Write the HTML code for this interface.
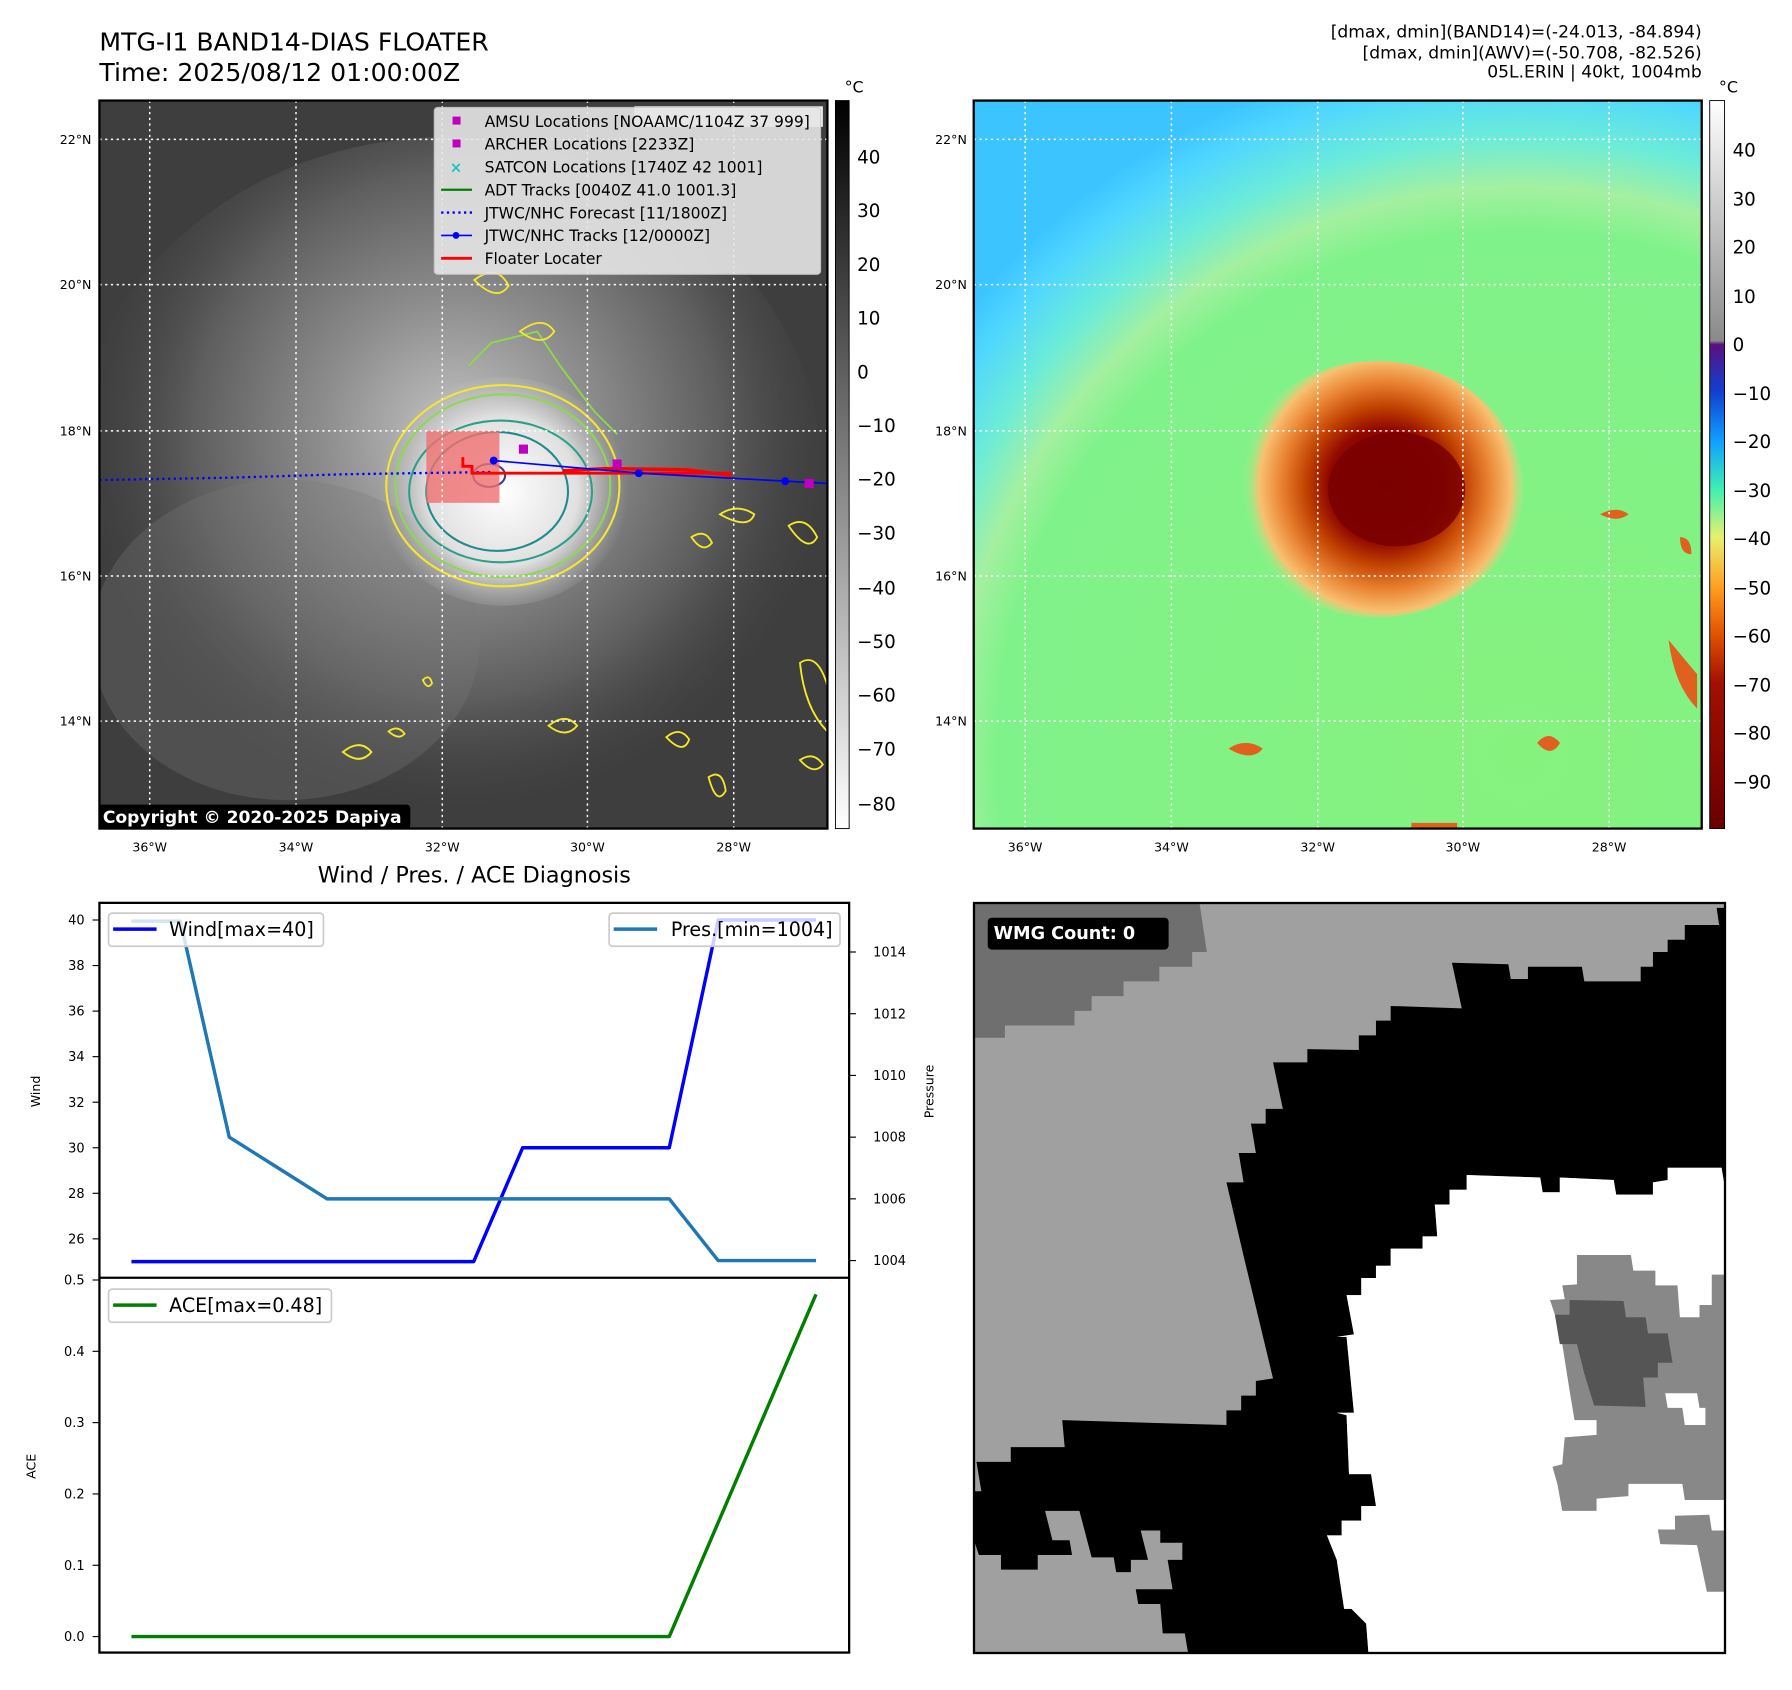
<!DOCTYPE html>
<html><head><meta charset="utf-8"><style>
html,body{margin:0;padding:0;background:#fff;}
svg{display:block;font-family:"DejaVu Sans","Liberation Sans",sans-serif;}
</style></head><body>
<svg id="root" width="1792" height="1690" viewBox="0 0 1792 1690" xmlns="http://www.w3.org/2000/svg">
<defs>
<radialGradient id="cloud" cx="400" cy="380" r="330" gradientUnits="userSpaceOnUse">
<stop offset="0" stop-color="#c4c4c4"/><stop offset="0.35" stop-color="#8e8e8e"/><stop offset="0.7" stop-color="#5e5e5e"/><stop offset="1" stop-color="#454545" stop-opacity="0"/></radialGradient>
<radialGradient id="core" cx="440" cy="430" r="110" gradientUnits="userSpaceOnUse">
<stop offset="0" stop-color="#ffffff"/><stop offset="0.6" stop-color="#e0e0e0"/><stop offset="1" stop-color="#b0b0b0" stop-opacity="0"/></radialGradient>
<radialGradient id="env" cx="1330" cy="660" r="620" gradientUnits="userSpaceOnUse">
<stop offset="0" stop-color="#86f27e"/><stop offset="0.74" stop-color="#80f28a"/><stop offset="0.8" stop-color="#a4f0a0"/><stop offset="0.87" stop-color="#6cecd8"/><stop offset="0.95" stop-color="#4fd6ff"/><stop offset="1" stop-color="#3cc4ff"/></radialGradient>
<radialGradient id="storm" cx="1212" cy="425" r="125" gradientUnits="userSpaceOnUse">
<stop offset="0" stop-color="#7a0000"/><stop offset="0.4" stop-color="#900800"/><stop offset="0.55" stop-color="#c04000"/><stop offset="0.72" stop-color="#e88030"/><stop offset="0.88" stop-color="#f8c070"/><stop offset="1" stop-color="#a0f090" stop-opacity="0"/></radialGradient>
<linearGradient id="cbL" x1="0" y1="0" x2="0" y2="1"><stop offset="0" stop-color="#000"/><stop offset="1" stop-color="#fff"/></linearGradient>
<linearGradient id="cbR" x1="0" y1="0" x2="0" y2="1">
<stop offset="0" stop-color="#ffffff"/><stop offset="0.33" stop-color="#8a8a8a"/><stop offset="0.335" stop-color="#5a1080"/><stop offset="0.40" stop-color="#1040d0"/><stop offset="0.468" stop-color="#10a0ff"/><stop offset="0.535" stop-color="#40f0b0"/><stop offset="0.60" stop-color="#e8f070"/><stop offset="0.668" stop-color="#ffa020"/><stop offset="0.735" stop-color="#e05000"/><stop offset="0.80" stop-color="#a01000"/><stop offset="1" stop-color="#6a0000"/></linearGradient>
<clipPath id="clipL"><rect x="87" y="88" width="637" height="637"/></clipPath>
<clipPath id="clipR"><rect x="852" y="88" width="637" height="637"/></clipPath>
</defs>
<g transform="scale(1.142857)">
<text x="87" y="44" font-size="22">MTG-I1 BAND14-DIAS FLOATER</text>
<text x="87" y="71" font-size="22">Time: 2025/08/12 01:00:00Z</text>
<g font-size="15" text-anchor="end">
<text x="1489" y="33">[dmax, dmin](BAND14)=(-24.013, -84.894)</text>
<text x="1489" y="51">[dmax, dmin](AWV)=(-50.708, -82.526)</text>
<text x="1489" y="68">05L.ERIN | 40kt, 1004mb</text>
</g>

<!-- left map -->
<g clip-path="url(#clipL)">
<rect x="87" y="88" width="637" height="637" fill="#3e3e3e"/>
<ellipse cx="390" cy="420" rx="330" ry="300" fill="url(#cloud)"/>
<ellipse cx="250" cy="560" rx="170" ry="140" fill="#7a7a7a" opacity="0.3"/>
<ellipse cx="440" cy="430" rx="110" ry="100" fill="url(#core)"/>
<ellipse cx="440" cy="425" rx="102" ry="88" fill="none" stroke="#f5e82a" stroke-width="1.8"/>
<ellipse cx="440" cy="425" rx="94" ry="80" fill="none" stroke="#8ed84c" stroke-width="1.8"/>
<ellipse cx="438" cy="430" rx="80" ry="62" fill="none" stroke="#2aa088" stroke-width="1.8"/>
<ellipse cx="435" cy="430" rx="62" ry="52" fill="none" stroke="#1d8a8e" stroke-width="1.8"/>
<ellipse cx="428" cy="416" rx="14" ry="10" fill="none" stroke="#3e3a8a" stroke-width="1.8"/>
<path d="M410,320 L430,300 L470,290 L490,320 L520,360 L540,380" fill="none" stroke="#8ed84c" stroke-width="1.6"/>
<path d="M415,245 q20,-15 30,5 q-10,15 -30,-5z M455,290 q20,-15 30,0 q-10,15 -30,0z M300,658 q15,-12 25,0 q-10,12 -25,0z M583,645 q12,-10 20,2 q-5,14 -20,-2z M630,450 q15,-10 30,0 q-5,14 -30,0z M605,470 q12,-8 18,5 q-8,10 -18,-5z M690,460 q15,-10 25,10 q-8,15 -25,-10z M700,580 q15,-10 24,20 l0,40 q-20,-20 -24,-60z M480,635 q15,-12 25,0 q-10,12 -25,0z M620,680 q12,-8 15,12 q-8,14 -15,-12z M700,665 q12,-8 20,4 q-8,10 -20,-4z M370,595 q6,-6 8,3 q-4,6 -8,-3z M340,640 q8,-6 14,2 q-5,6 -14,-2z" fill="none" stroke="#f5e82a" stroke-width="1.6"/>
<rect x="373" y="377" width="64" height="63" fill="#f07070" opacity="0.8"/>
<g stroke="#ffffff" stroke-width="1.3" stroke-dasharray="2,3" fill="none">
<line x1="131" y1="88" x2="131" y2="725"/><line x1="259" y1="88" x2="259" y2="725"/><line x1="387" y1="88" x2="387" y2="725"/><line x1="514" y1="88" x2="514" y2="725"/><line x1="642" y1="88" x2="642" y2="725"/>
<line x1="87" y1="122" x2="724" y2="122"/><line x1="87" y1="249" x2="724" y2="249"/><line x1="87" y1="377" x2="724" y2="377"/><line x1="87" y1="504" x2="724" y2="504"/><line x1="87" y1="631" x2="724" y2="631"/>
</g>
<polyline points="87,420 200,418 300,415 430,413" fill="none" stroke="#0000ff" stroke-width="2" stroke-dasharray="2,3"/>
<polyline points="405,400 405,408 413,408 413,414 640,414" fill="none" stroke="#ff0000" stroke-width="2.5"/>
<polyline points="492,412 530,410 600,411 640,416" fill="none" stroke="#ff0000" stroke-width="3"/>
<polyline points="432,403 559,414 687,421 724,423" fill="none" stroke="#0000ff" stroke-width="1.5"/>
<circle cx="432" cy="403" r="3.5" fill="#0000ff"/><circle cx="559" cy="414" r="3.5" fill="#0000ff"/><circle cx="687" cy="421" r="3.5" fill="#0000ff"/>
<rect x="454" y="389" width="8" height="8" fill="#c000c0"/><rect x="536" y="402" width="8" height="8" fill="#c000c0"/><rect x="704" y="419" width="8" height="8" fill="#c000c0"/>
<rect x="555" y="93" width="165" height="18" fill="#ffffff" opacity="0.9"/>
<rect x="380" y="94" width="338" height="146" rx="3" fill="#e6e6e6" opacity="0.9" stroke="#cccccc"/>
<g font-size="13.6" fill="#000">
<rect x="396" y="102" width="7" height="7" fill="#c000c0"/><text x="424" y="111">AMSU Locations [NOAAMC/1104Z 37 999]</text>
<rect x="396" y="122" width="7" height="7" fill="#c000c0"/><text x="424" y="131">ARCHER Locations [2233Z]</text>
<text x="399" y="151" fill="#20c0c0" font-size="13" text-anchor="middle" font-weight="bold">×</text><text x="424" y="151">SATCON Locations [1740Z 42 1001]</text>
<line x1="386" y1="166" x2="413" y2="166" stroke="#008000" stroke-width="2"/><text x="424" y="171">ADT Tracks [0040Z 41.0 1001.3]</text>
<line x1="386" y1="186" x2="413" y2="186" stroke="#0000ff" stroke-width="2" stroke-dasharray="2,3"/><text x="424" y="191">JTWC/NHC Forecast [11/1800Z]</text>
<line x1="386" y1="206" x2="413" y2="206" stroke="#0000ff" stroke-width="1.5"/><circle cx="399" cy="206" r="3" fill="#0000ff"/><text x="424" y="211">JTWC/NHC Tracks [12/0000Z]</text>
<line x1="386" y1="226" x2="413" y2="226" stroke="#ff0000" stroke-width="2.5"/><text x="424" y="231">Floater Locater</text>
</g>
<rect x="85" y="704" width="274" height="21" rx="3" fill="#000"/>
<text x="90" y="720" font-size="15" font-weight="bold" fill="#fff">Copyright © 2020-2025 Dapiya</text>
</g>
<rect x="87" y="88" width="637" height="637" fill="none" stroke="#000" stroke-width="2"/>
<rect x="731" y="88" width="12" height="637" fill="url(#cbL)" stroke="#000" stroke-width="0.8"/>
<text x="739" y="81" font-size="14">°C</text>
<g font-size="16">
<text x="750" y="143">40</text><text x="750" y="190">30</text><text x="750" y="237">20</text><text x="750" y="284">10</text><text x="750" y="331">0</text><text x="750" y="378">−10</text><text x="750" y="425">−20</text><text x="750" y="472">−30</text><text x="750" y="520">−40</text><text x="750" y="567">−50</text><text x="750" y="614">−60</text><text x="750" y="661">−70</text><text x="750" y="709">−80</text>
</g>
<g font-size="11">
<g text-anchor="end"><text x="80" y="126">22°N</text><text x="80" y="253">20°N</text><text x="80" y="381">18°N</text><text x="80" y="508">16°N</text><text x="80" y="635">14°N</text></g>
<g text-anchor="middle"><text x="131" y="745">36°W</text><text x="259" y="745">34°W</text><text x="387" y="745">32°W</text><text x="514" y="745">30°W</text><text x="642" y="745">28°W</text></g>
</g>

<!-- right map -->
<g clip-path="url(#clipR)">
<rect x="852" y="88" width="637" height="637" fill="#3cc4ff"/>
<circle cx="1330" cy="660" r="620" fill="url(#env)"/>
<ellipse cx="1205" cy="428" rx="128" ry="112" fill="url(#storm)"/>
<ellipse cx="1222" cy="428" rx="60" ry="50" fill="#7a0000" opacity="0.85"/>
<path d="M1075,655 q15,-10 30,0 q-10,12 -30,0z M1345,650 q10,-12 20,0 q-8,14 -20,0z M1400,450 q15,-8 25,0 q-10,8 -25,0z M1470,470 q10,0 10,15 q-10,0 -10,-15z M1460,560 l25,30 l0,30 q-20,-20 -25,-60z M1235,720 l40,0 l0,5 l-40,0z" fill="#e06020"/>
<g stroke="#ffffff" stroke-width="1.3" stroke-dasharray="2,3" fill="none">
<line x1="897" y1="88" x2="897" y2="725"/><line x1="1025" y1="88" x2="1025" y2="725"/><line x1="1153" y1="88" x2="1153" y2="725"/><line x1="1280" y1="88" x2="1280" y2="725"/><line x1="1408" y1="88" x2="1408" y2="725"/>
<line x1="852" y1="122" x2="1489" y2="122"/><line x1="852" y1="249" x2="1489" y2="249"/><line x1="852" y1="377" x2="1489" y2="377"/><line x1="852" y1="504" x2="1489" y2="504"/><line x1="852" y1="631" x2="1489" y2="631"/>
</g>
</g>
<rect x="852" y="88" width="637" height="637" fill="none" stroke="#000" stroke-width="2"/>
<rect x="1496" y="88" width="13" height="637" fill="url(#cbR)" stroke="#000" stroke-width="0.8"/>
<text x="1504" y="81" font-size="14">°C</text>
<g font-size="16">
<text x="1516" y="137">40</text><text x="1516" y="180">30</text><text x="1516" y="222">20</text><text x="1516" y="265">10</text><text x="1516" y="307">0</text><text x="1516" y="350">−10</text><text x="1516" y="392">−20</text><text x="1516" y="435">−30</text><text x="1516" y="477">−40</text><text x="1516" y="520">−50</text><text x="1516" y="562">−60</text><text x="1516" y="605">−70</text><text x="1516" y="647">−80</text><text x="1516" y="690">−90</text>
</g>
<g font-size="11">
<g text-anchor="end"><text x="846" y="126">22°N</text><text x="846" y="253">20°N</text><text x="846" y="381">18°N</text><text x="846" y="508">16°N</text><text x="846" y="635">14°N</text></g>
<g text-anchor="middle"><text x="897" y="745">36°W</text><text x="1025" y="745">34°W</text><text x="1153" y="745">32°W</text><text x="1280" y="745">30°W</text><text x="1408" y="745">28°W</text></g>
</g>

<!-- diagnosis chart -->
<text x="415" y="772" font-size="19.5" text-anchor="middle">Wind / Pres. / ACE Diagnosis</text>
<g id="chart"></g>
<rect x="87" y="790" width="656" height="656" fill="none" stroke="#000" stroke-width="2"/>
<line x1="87" y1="1118" x2="743" y2="1118" stroke="#000" stroke-width="2"/>
<text transform="translate(35,955) rotate(-90)" font-size="11" text-anchor="middle">Wind</text>
<text transform="translate(817,955) rotate(-90)" font-size="11" text-anchor="middle">Pressure</text>
<text transform="translate(31,1283) rotate(-90)" font-size="11" text-anchor="middle">ACE</text>
<rect x="95" y="799" width="188" height="29" rx="3" fill="#fff" fill-opacity="0.8" stroke="#ccc" stroke-width="1.5"/>
<line x1="99" y1="813" x2="137" y2="813" stroke="#0000ff" stroke-width="3"/><text x="148" y="819" font-size="16.7">Wind[max=40]</text>
<rect x="533" y="799" width="202" height="29" rx="3" fill="#fff" fill-opacity="0.8" stroke="#ccc" stroke-width="1.5"/>
<line x1="537" y1="813" x2="575" y2="813" stroke="#1f77b4" stroke-width="3"/><text x="587" y="819" font-size="16.7">Pres.[min=1004]</text>
<rect x="95" y="1128" width="195" height="29" rx="3" fill="#fff" fill-opacity="0.8" stroke="#ccc" stroke-width="1.5"/>
<line x1="99" y1="1142" x2="137" y2="1142" stroke="#008000" stroke-width="3"/><text x="148" y="1148" font-size="16.7">ACE[max=0.48]</text>
</g>

<!-- WMG panel -->
<svg x="974" y="903" width="751" height="750" viewBox="0 0 1532 1530" preserveAspectRatio="none">
<rect x="0" y="0" width="1550" height="1550" fill="#a0a0a0"/>
<polygon fill="#6f6f6f" points="0,0 460,0 475,100 445,100 445,130 378,130 378,160 305,160 305,190 240,190 240,220 205,220 205,250 63,250 63,275 0,275"/>
<polygon fill="#000" points="1550,10 1515,10 1520,45 1450,45 1450,75 1415,75 1415,100 1385,100 1385,130 1360,130 1360,160 1245,160 1240,130 1130,130 1130,155 1095,155 1090,125 975,122 995,215 850,210 850,240 820,240 820,270 785,270 785,300 680,298 680,325 610,325 630,420 595,420 595,450 565,450 575,510 540,510 550,570 515,570 550,720 610,970 575,975 575,1005 545,1005 545,1035 515,1035 515,1065 180,1055 185,1110 75,1110 75,1140 5,1140 15,1200 0,1200 0,1300 10,1330 55,1330 55,1360 130,1360 130,1330 200,1330 195,1300 160,1300 145,1240 215,1240 240,1335 285,1335 290,1365 320,1365 320,1340 355,1340 340,1280 380,1280 380,1305 425,1305 425,1340 395,1340 405,1400 330,1400 335,1430 380,1430 385,1490 430,1490 440,1550 775,1550 770,1535 805,1535 800,1470 770,1440 755,1440 740,1340 720,1290 750,1290 750,1260 790,1260 790,1230 820,1230 810,1165 765,1165 760,1045 740,1040 775,1040 760,885 740,885 775,880 760,800 790,800 790,765 820,765 820,740 850,740 850,705 915,705 915,680 945,680 940,615 970,615 970,585 1005,585 1005,555 1155,560 1160,590 1195,590 1195,560 1305,565 1310,595 1385,595 1385,570 1415,565 1415,540 1525,540 1530,570 1550,570"/>
<polygon fill="#fff" points="775,1550 770,1535 805,1535 800,1470 770,1440 755,1440 740,1340 720,1290 750,1290 750,1260 790,1260 790,1230 820,1230 810,1165 765,1165 760,1045 740,1040 775,1040 760,885 740,885 775,880 760,800 790,800 790,765 820,765 820,740 850,740 850,705 915,705 915,680 945,680 940,615 970,615 970,585 1005,585 1005,555 1155,560 1160,590 1195,590 1195,560 1305,565 1310,595 1385,595 1385,570 1415,565 1415,540 1525,540 1530,570 1550,570 1550,1550"/>
<polygon fill="#888" points="1230,718 1340,718 1345,750 1390,750 1390,780 1435,780 1440,845 1480,845 1480,820 1505,820 1505,758 1550,758 1550,1218 1450,1218 1445,1185 1335,1185 1335,1210 1270,1215 1270,1240 1200,1240 1190,1185 1180,1150 1200,1145 1205,1090 1270,1085 1270,1055 1225,1055 1215,995 1200,900 1185,840 1175,810 1205,808 1200,780 1230,778"/>
<polygon fill="#fff" points="1410,1000 1475,1000 1480,1030 1492,1030 1492,1065 1450,1065 1445,1030 1415,1030"/>
<polygon fill="#555" points="1215,810 1325,812 1330,845 1370,845 1375,878 1415,878 1425,938 1395,938 1395,968 1365,968 1370,1028 1265,1025 1245,960 1230,900 1195,900 1185,840 1215,840"/>
<polygon fill="#888" points="1430,1250 1500,1248 1505,1280 1550,1280 1550,1370 1530,1370 1530,1405 1495,1405 1475,1310 1400,1308 1395,1278 1430,1278"/>
<rect x="28" y="30" width="369" height="65" rx="8" fill="#000"/>
<text x="40" y="73" font-size="36" font-weight="bold" fill="#fff">WMG Count: 0</text>
</svg>
<rect x="974" y="903" width="751" height="750" fill="none" stroke="#000" stroke-width="2.3"/>
</svg>
<script>
var windVals = [25,25,25,25,25,25,25,25,30,30,30,30,40,40,40];
var presVals = [1015,1015,1008,1007,1006,1006,1006,1006,1006,1006,1006,1006,1004,1004,1004];
var aceVals = [0,0,0,0,0,0,0,0,0,0,0,0,0.16,0.32,0.48];
var windTicks = [26,28,30,32,34,36,38,40];
var presTicks = [1004,1006,1008,1010,1012,1014];
var aceTicks = [0.0,0.1,0.2,0.3,0.4,0.5];
var NS = 'http://www.w3.org/2000/svg';
var g = document.getElementById('chart');
function xPos(i){ return 115 + i * (714 - 115) / (windVals.length - 1); }
function yWind(v){ return 805 + (40 - v) * (1084 - 805) / 14; }
function yPres(v){ return 1103 - (v - 1004) * (1103 - 833) / 10; }
function yAce(v){ return 1432 - v * (1432 - 1120) / 0.5; }
function mk(tag, attrs){ var e = document.createElementNS(NS, tag); for (var k in attrs) e.setAttribute(k, attrs[k]); g.appendChild(e); return e; }
function line(vals, yf, color, name){
  var pts = vals.map(function(v,i){ return xPos(i).toFixed(1) + ',' + yf(v).toFixed(1); }).join(' ');
  var p = mk('polyline', {points: pts, fill: 'none', stroke: color, 'stroke-width': 3, 'stroke-linejoin': 'round'});
  
  
}
windTicks.forEach(function(t){
  var y = yWind(t);
  mk('line', {x1: 81, y1: y, x2: 87, y2: y, stroke: '#000', 'stroke-width': 1});
  var tx = mk('text', {x: 74, y: y + 4, 'font-size': 11.3, 'text-anchor': 'end'}); tx.textContent = t;
  
  
});
presTicks.forEach(function(t){
  var y = yPres(t);
  mk('line', {x1: 743, y1: y, x2: 749, y2: y, stroke: '#000', 'stroke-width': 1});
  var tx = mk('text', {x: 764, y: y + 4, 'font-size': 11.3}); tx.textContent = t;
  
  
});
aceTicks.forEach(function(t){
  var y = yAce(t);
  mk('line', {x1: 81, y1: y, x2: 87, y2: y, stroke: '#000', 'stroke-width': 1});
  var tx = mk('text', {x: 74, y: y + 4, 'font-size': 11.3, 'text-anchor': 'end'}); tx.textContent = t.toFixed(1);
  
  
});
line(windVals, yWind, '#0000ff', 'wind-line');
line(presVals, yPres, '#1f77b4', 'pressure-line');
line(aceVals, yAce, '#008000', 'ace-line');
</script>
</body></html>
